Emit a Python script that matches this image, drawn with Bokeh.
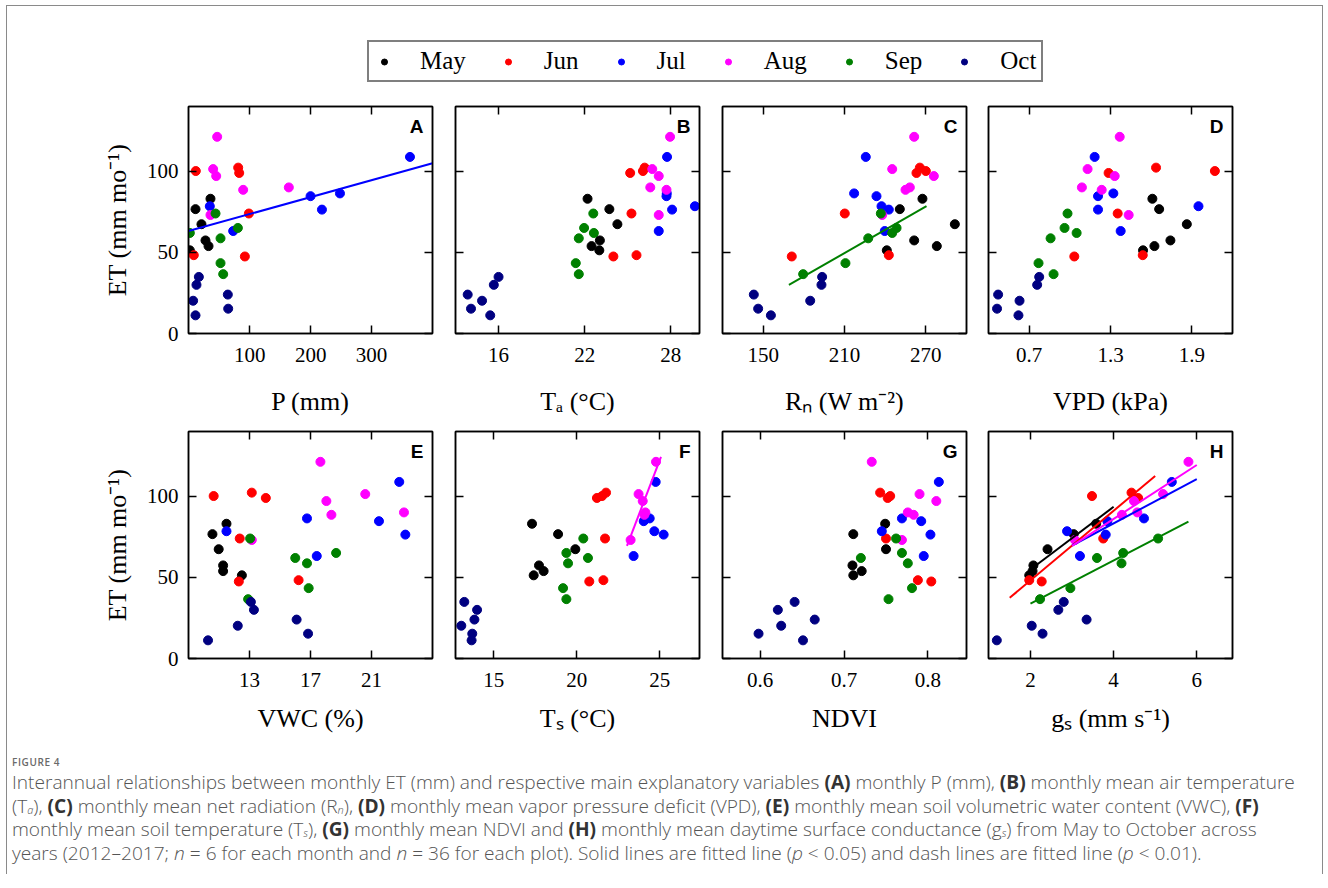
import numpy as np
from bokeh.plotting import figure
from bokeh.models import (Range1d, LinearAxis, FixedTicker, Legend, LegendItem, Div,
                          CustomJSTickFormatter)
from bokeh.layouts import column, row
from bokeh.embed import file_html
from bokeh.resources import INLINE
from bokeh.core.properties import value

# ---------------- data (6 years per month, same order in every list) ----------------
months = ["May", "Jun", "Jul", "Aug", "Sep", "Oct"]
month_colors = ["#000000", "#ff0000", "#0000ff", "#ff00ff", "#008000", "#000080"]

et = [83.1, 76.7, 67.4, 57.4, 53.9, 51.3,
      102.3, 100.2, 99.0, 74.0, 48.3, 47.5,
      108.9, 86.4, 84.7, 78.5, 76.4, 63.2,
      121.3, 101.4, 97.1, 90.1, 88.6, 73.1,
      74.0, 65.1, 62.0, 58.7, 43.4, 36.6,
      34.9, 30.0, 24.0, 20.2, 15.3, 11.2]

p_mm = [35.3, 10.7, 20.5, 27.1, 32.1, 1.4,
        80.8, 11.2, 82.5, 98.4, 7.9, 91.8,
        363.0, 248.0, 199.7, 34.2, 218.4, 72.6,
        46.3, 39.7, 44.7, 164.0, 89.0, 35.3,
        43.6, 80.3, 1.4, 51.8, 51.8, 56.2,
        16.2, 12.3, 63.8, 6.8, 64.4, 10.7]

ta = [22.20, 23.72, 24.28, 23.06, 22.48, 23.02,
      26.18, 26.06, 25.17, 25.26, 25.61, 24.00,
      27.74, 27.72, 27.70, 29.68, 28.09, 27.16,
      27.95, 26.71, 27.16, 26.57, 27.70, 27.16,
      22.60, 21.96, 22.64, 21.59, 21.38, 21.59,
      16.00, 15.67, 13.85, 14.85, 14.08, 15.42]

rn = [267.5, 250.8, 291.4, 261.4, 278.1, 241.2,
      265.6, 270.0, 263.1, 210.2, 242.7, 171.1,
      225.7, 217.1, 233.6, 237.3, 242.7, 239.7,
      261.4, 245.2, 275.9, 258.2, 255.0, 237.8,
      236.8, 248.4, 245.2, 227.5, 210.7, 179.5,
      193.5, 193.0, 143.1, 184.7, 146.3, 155.7]

vpd = [1.609, 1.659, 1.863, 1.742, 1.624, 1.540,
       1.636, 2.070, 1.286, 1.353, 1.538, 1.033,
       1.183, 1.321, 1.208, 1.949, 1.208, 1.375,
       1.368, 1.131, 1.331, 1.089, 1.235, 1.434,
       0.983, 0.961, 1.050, 0.858, 0.769, 0.880,
       0.774, 0.759, 0.471, 0.629, 0.463, 0.621]

vwc = [11.49, 10.57, 10.98, 11.27, 11.27, 12.50,
       13.15, 10.65, 14.07, 12.36, 16.22, 12.30,
       22.82, 16.77, 21.49, 11.49, 23.22, 17.41,
       17.65, 20.59, 18.04, 23.13, 18.37, 13.15,
       13.04, 18.68, 16.00, 16.77, 16.88, 12.91,
       13.09, 13.29, 16.09, 12.23, 16.84, 10.28]

ts = [17.31, 18.88, 19.92, 17.73, 18.01, 17.41,
      21.77, 21.53, 21.22, 21.71, 21.61, 20.76,
      24.76, 24.40, 24.04, 24.68, 25.24, 23.43,
      24.78, 23.73, 23.98, 24.14, 24.08, 23.25,
      20.40, 19.38, 20.68, 19.48, 19.18, 19.38,
      13.23, 14.00, 13.84, 13.05, 13.71, 13.67]

ndvi = [0.749, 0.711, 0.750, 0.710, 0.721, 0.711,
        0.743, 0.755, 0.752, 0.750, 0.788, 0.804,
        0.813, 0.769, 0.792, 0.745, 0.803, 0.795,
        0.733, 0.790, 0.810, 0.776, 0.783, 0.769,
        0.762, 0.769, 0.720, 0.776, 0.781, 0.753,
        0.641, 0.621, 0.665, 0.625, 0.598, 0.651]

gs = [3.58, 3.04, 2.41, 2.07, 2.05, 1.97,
      4.43, 3.48, 4.59, 3.75, 1.97, 2.27,
      5.40, 4.73, 3.85, 2.88, 3.81, 3.19,
      5.80, 5.19, 4.49, 4.57, 4.20, 3.07,
      5.07, 4.23, 3.60, 4.19, 2.96, 2.23,
      2.80, 2.67, 3.35, 2.03, 2.29, 1.19]

y_ticks = [0, 50, 100]
y_label = "ET (mm mo⁻¹)"

# panel: letter, x data, x label, x range, x ticks, fitted lines (month, x from, x to)
panels_top = [
    ("A", p_mm, "P (mm)", (-0.8, 400), [100, 200, 300], [("Jul", -0.8, 400)]),
    ("B", ta, "Tₐ (°C)", (13, 30), [16, 22, 28], []),
    ("C", rn, "Rₙ (W m⁻²)", (120, 300), [150, 210, 270], [("Sep", 169, 270.5)]),
    ("D", vpd, "VPD (kPa)", (0.4, 2.2), [0.7, 1.3, 1.9], []),
]
panels_bottom = [
    ("E", vwc, "VWC (%)", (9, 25), [13, 17, 21], []),
    ("F", ts, "Tₛ (°C)", (12.7, 27.4), [15, 20, 25], [("Aug", 23.03, 25.08)]),
    ("G", ndvi, "NDVI", (0.555, 0.846), [0.6, 0.7, 0.8], []),
    ("H", gs, "gₛ (mm s⁻¹)", (0.99, 6.86), [2, 4, 6],
     [("May", 2, 4), ("Jun", 1.5, 5), ("Jul", 3, 6), ("Aug", 3, 6), ("Sep", 2, 5.8)]),
]

# ---------------- layout constants ----------------
FW, FH = 244, 227
LEFTS = [181, 12, 12, 11]
RIGHTS = [11, 11, 11, 90]
BOTTOM = 92
SERIF = "Liberation Serif"
blank = CustomJSTickFormatter(code="return ''")


def style_axis(ax, ticks, show_labels):
    ax.ticker = FixedTicker(ticks=ticks)
    ax.major_tick_in = 8
    ax.major_tick_out = 0
    ax.minor_tick_in = 0
    ax.minor_tick_out = 0
    ax.axis_line_width = 1.5
    ax.axis_line_color = "black"
    ax.major_tick_line_width = 1.5
    ax.major_tick_line_color = "black"
    if show_labels:
        ax.major_label_text_font = SERIF
        ax.major_label_text_font_size = "21px"
        ax.major_label_text_color = "black"
        ax.major_label_standoff = 14
    else:
        ax.formatter = blank
        ax.major_label_standoff = 0


def make_panel(ci, top, label_standoff, spec):
    key, xs, xlabel, xr, xt, fits = spec
    l, r = LEFTS[ci], RIGHTS[ci]
    f = figure(width=l + FW + r, height=top + FH + BOTTOM,
               x_range=Range1d(*xr), y_range=Range1d(0, 140),
               output_backend="svg", toolbar_location=None,
               min_border_left=l, min_border_right=r,
               min_border_top=top, min_border_bottom=BOTTOM)
    f.grid.visible = False
    f.outline_line_color = "black"
    f.outline_line_width = 1.5
    f.background_fill_color = "white"
    f.border_fill_color = "white"

    xa = f.xaxis[0]
    style_axis(xa, xt, True)
    xa.axis_label = xlabel
    xa.axis_label_text_font = SERIF
    xa.axis_label_text_font_size = "26px"
    xa.axis_label_text_font_style = "normal"
    xa.axis_label_text_color = "black"
    xa.axis_label_standoff = label_standoff

    ya = f.yaxis[0]
    style_axis(ya, y_ticks, ci == 0)
    if ci == 0:
        ya.major_label_standoff = 10
        ya.axis_label = y_label
        ya.axis_label_text_font = SERIF
        ya.axis_label_text_font_size = "26px"
        ya.axis_label_text_font_style = "normal"
        ya.axis_label_text_color = "black"
        ya.axis_label_standoff = 12

    ra = LinearAxis()
    style_axis(ra, y_ticks, False)
    f.add_layout(ra, "right")
    ta_ = LinearAxis()
    style_axis(ta_, xt, False)
    f.add_layout(ta_, "above")

    xs_arr = np.array(xs)
    et_arr = np.array(et)
    for i, (m, c) in enumerate(zip(months, month_colors)):
        sl = slice(i * 6, (i + 1) * 6)
        f.scatter(xs_arr[sl], et_arr[sl], size=9, fill_color=c, line_color=c)

    for m, x0, x1 in fits:
        i = months.index(m)
        sl = slice(i * 6, (i + 1) * 6)
        coef = np.polyfit(xs_arr[sl], et_arr[sl], 1)
        lx = np.array([x0, x1])
        f.line(lx, np.polyval(coef, lx), line_color=month_colors[i], line_width=2)

    f.text(x=[xr[1]], y=[140], text=[key], text_font=value("Liberation Sans"),
           text_font_style="bold", text_font_size="19px", text_color="black",
           text_align="right", text_baseline="top", x_offset=-9, y_offset=9)
    return f


row1 = row(*[make_panel(i, 18, 22, s) for i, s in enumerate(panels_top)])
row2 = row(*[make_panel(i, 6, 14, s) for i, s in enumerate(panels_bottom)])
total_w = sum(LEFTS) + sum(RIGHTS) + 4 * FW

# ---------------- legend strip ----------------
lf = figure(width=total_w, height=82, x_range=Range1d(0, 1), y_range=Range1d(0, 1),
            output_backend="svg", toolbar_location=None, min_border=0,
            x_axis_type=None, y_axis_type=None)
lf.outline_line_color = None
lf.grid.visible = False
items = []
for i, (m, c) in enumerate(zip(months, month_colors)):
    sl = slice(i * 6, (i + 1) * 6)
    rr = lf.scatter(gs[sl], et[sl], size=6, fill_color=c, line_color=c, visible=False)
    items.append(LegendItem(label=m, renderers=[rr]))
leg = Legend(items=items, orientation="horizontal", location=(360, 6),
             label_text_font=SERIF, label_text_font_size="25px", label_text_color="black",
             glyph_width=20, glyph_height=15, label_standoff=26, spacing=32, padding=5,
             border_line_color="black", border_line_width=2,
             background_fill_color="white", background_fill_alpha=1.0)
lf.add_layout(leg)

# ---------------- caption ----------------
B = '<b style="color:#333;font-weight:700">'
S = '<sub style="font-size:11px;line-height:0;vertical-align:-1px"><i>'
caption_html = f"""
<div style="font-family:'Open Sans',sans-serif;color:#555;padding:7px 0 0 5px;">
<div style="font-size:10px;line-height:10px;letter-spacing:0.6px;font-weight:600;color:#6a6a6a;">FIGURE 4</div>
<div style="font-size:19.1px;font-weight:300;line-height:23.5px;white-space:nowrap;margin-top:4px;">
Interannual relationships between monthly ET (mm) and respective main explanatory variables {B}(A)</b> monthly P (mm), {B}(B)</b> monthly mean air temperature<br>
(T{S}a</i></sub>), {B}(C)</b> monthly mean net radiation (R{S}n</i></sub>), {B}(D)</b> monthly mean vapor pressure deficit (VPD), {B}(E)</b> monthly mean soil volumetric water content (VWC), {B}(F)</b><br>
monthly mean soil temperature (T{S}s</i></sub>), {B}(G)</b> monthly mean NDVI and {B}(H)</b> monthly mean daytime surface conductance (g{S}s</i></sub>) from May to October across<br>
years (2012–2017; <i>n</i> = 6 for each month and <i>n</i> = 36 for each plot). Solid lines are fitted line (<i>p</i> &lt; 0.05) and dash lines are fitted line (<i>p</i> &lt; 0.01).
</div>
</div>
"""
cap = Div(text=caption_html, width=total_w, height=124, margin=0)

page = column(lf, row1, row2, cap, margin=(6, 0, 0, 7),
              styles={"outline": "1.5px solid #8a8a8a", "outline-offset": "0px",
                      "clip-path": "inset(-4px -4px 0px -4px)"})

open("out.html", "w").write(file_html(page, INLINE))
